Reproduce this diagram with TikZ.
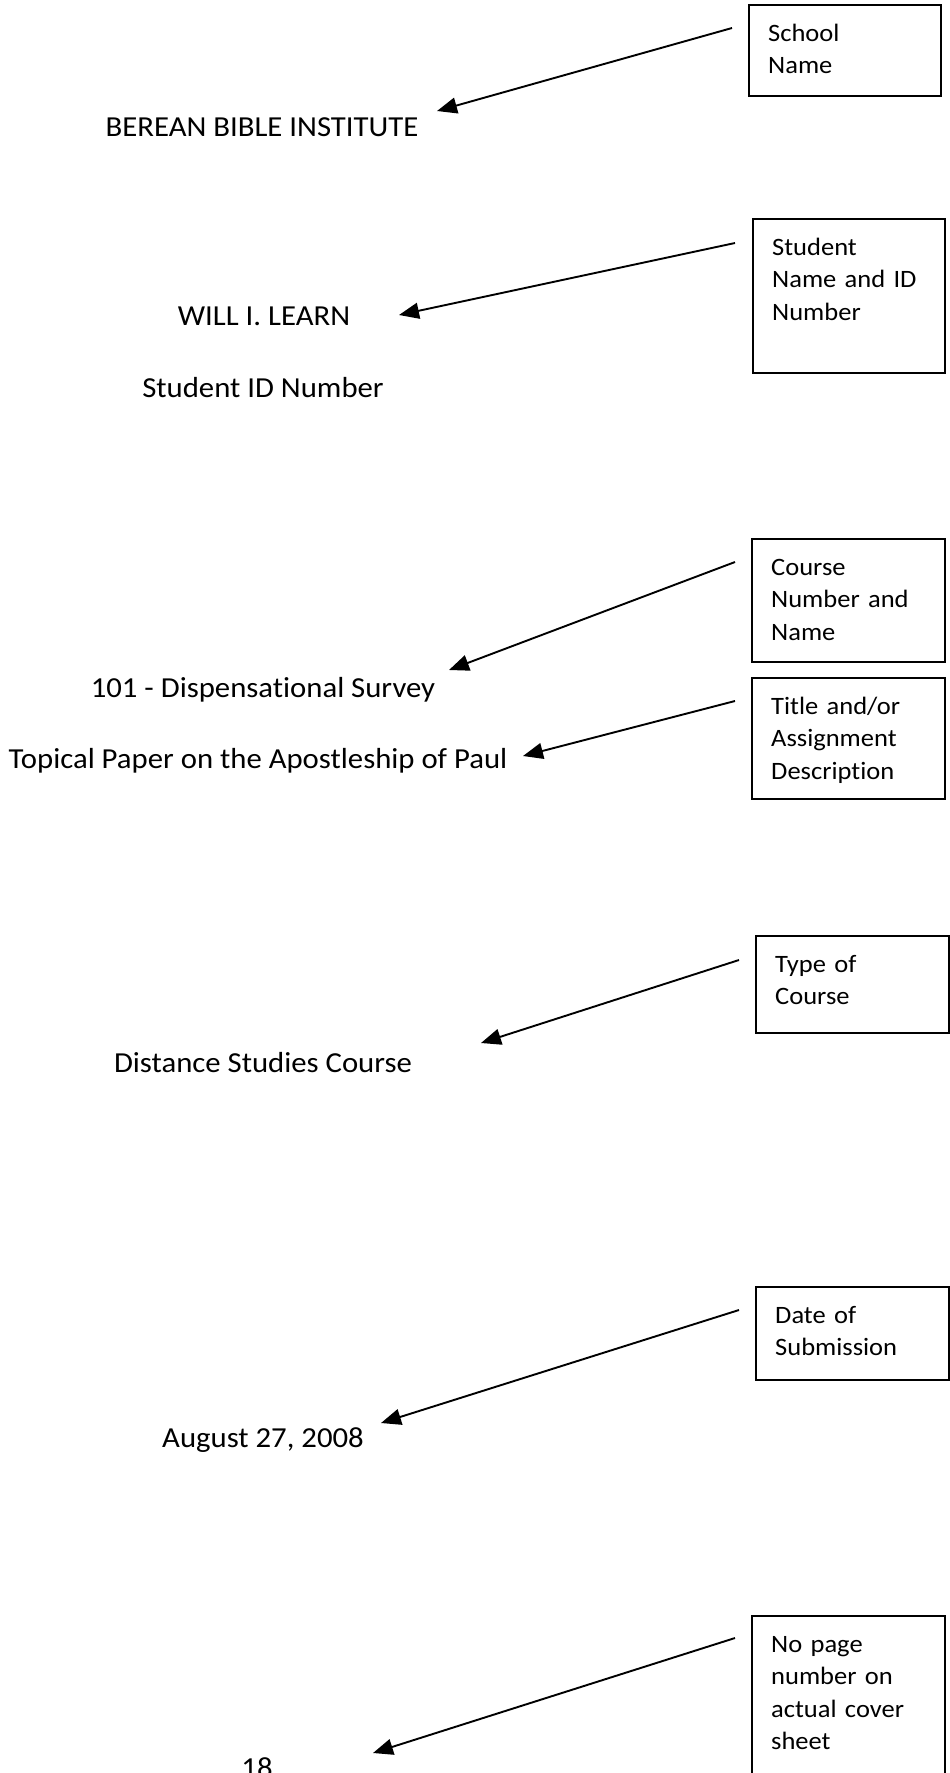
\documentclass[tikz,border=0pt]{standalone}
\usepackage{fontspec}
\setmainfont{Carlito}[FakeStretch=1.06,Ligatures=NoCommon]
\usetikzlibrary{arrows.meta}
\begin{document}
\begin{tikzpicture}[x=1pt,y=-1pt,
  lbl/.style={font=\fontsize{29}{34}\selectfont, inner sep=0pt, anchor=base},
  callout/.style={draw, line width=1.8pt, inner sep=0pt, anchor=north west},
  note/.style={font=\fontsize{25}{32.5}\selectfont, inner sep=0pt, anchor=base west, align=left, text width=165pt},
  pointer/.style={line width=1.9pt, -{Triangle[length=20pt,width=16pt]}}]
\useasboundingbox (0,0) rectangle (950,1773);
\clip (0,0) rectangle (950,1773);

% main texts
\node[lbl] (school) at (262,136) {BEREAN BIBLE INSTITUTE};
\node[lbl] (student) at (264,325) {WILL I. LEARN};
\node[lbl] (sid) at (263,397) {Student ID Number};
\node[lbl] (course) at (263,697) {101 - Dispensational Survey};
\node[lbl] (title) at (258,768) {Topical Paper on the Apostleship of Paul};
\node[lbl] (type) at (263,1072) {Distance Studies Course};
\node[lbl] (date) at (263,1447) {August 27, 2008};
\node[lbl] (page) at (257,1777) {18};

% callout boxes
\node[callout, minimum width=192pt, minimum height=91pt] (b1) at (748,4) {};
\node[callout, minimum width=192pt, minimum height=154pt] (b2) at (752,218) {};
\node[callout, minimum width=193pt, minimum height=123pt] (b3) at (751,538) {};
\node[callout, minimum width=193pt, minimum height=121pt] (b4) at (751,677) {};
\node[callout, minimum width=193pt, minimum height=97pt] (b5) at (755,935) {};
\node[callout, minimum width=193pt, minimum height=93pt] (b6) at (755,1286) {};
\node[callout, minimum width=193pt, minimum height=200pt] (b7) at (751,1615) {};

% callout texts
\node[note] (n1) at ([xshift=20pt,yshift=-37pt]b1.north west) {School\\Name};
\node[note] (n2) at ([xshift=20pt,yshift=-37pt]b2.north west) {Student\\Name and ID\\Number};
\node[note] (n3) at ([xshift=20pt,yshift=-37pt]b3.north west) {Course\\Number and\\Name};
\node[note] (n4) at ([xshift=20pt,yshift=-37pt]b4.north west) {Title and/or\\Assignment\\Description};
\node[note] (n5) at ([xshift=20pt,yshift=-37pt]b5.north west) {Type of\\Course};
\node[note] (n6) at ([xshift=20pt,yshift=-37pt]b6.north west) {Date of\\Submission};
\node[note] (n7) at ([xshift=20pt,yshift=-37pt]b7.north west) {No page\\number on\\actual cover\\sheet};

% arrow tips
\coordinate (t1) at (437,111);
\coordinate (t2) at (399,315);
\coordinate (t3) at (449,670);
\coordinate (t4) at (523,756);
\coordinate (t5) at (481,1043);
\coordinate (t6) at (381,1423);
\coordinate (t7) at (373,1753);

% connectors
\draw[pointer] ([xshift=-16pt,yshift=-24pt]b1.north west) -- (t1);
\draw[pointer] ([xshift=-17pt,yshift=-25pt]b2.north west) -- (t2);
\draw[pointer] ([xshift=-16pt,yshift=-24pt]b3.north west) -- (t3);
\draw[pointer] ([xshift=-16pt,yshift=-24pt]b4.north west) -- (t4);
\draw[pointer] ([xshift=-16pt,yshift=-25pt]b5.north west) -- (t5);
\draw[pointer] ([xshift=-16pt,yshift=-24pt]b6.north west) -- (t6);
\draw[pointer] ([xshift=-16pt,yshift=-23pt]b7.north west) -- (t7);
\end{tikzpicture}
\end{document}
